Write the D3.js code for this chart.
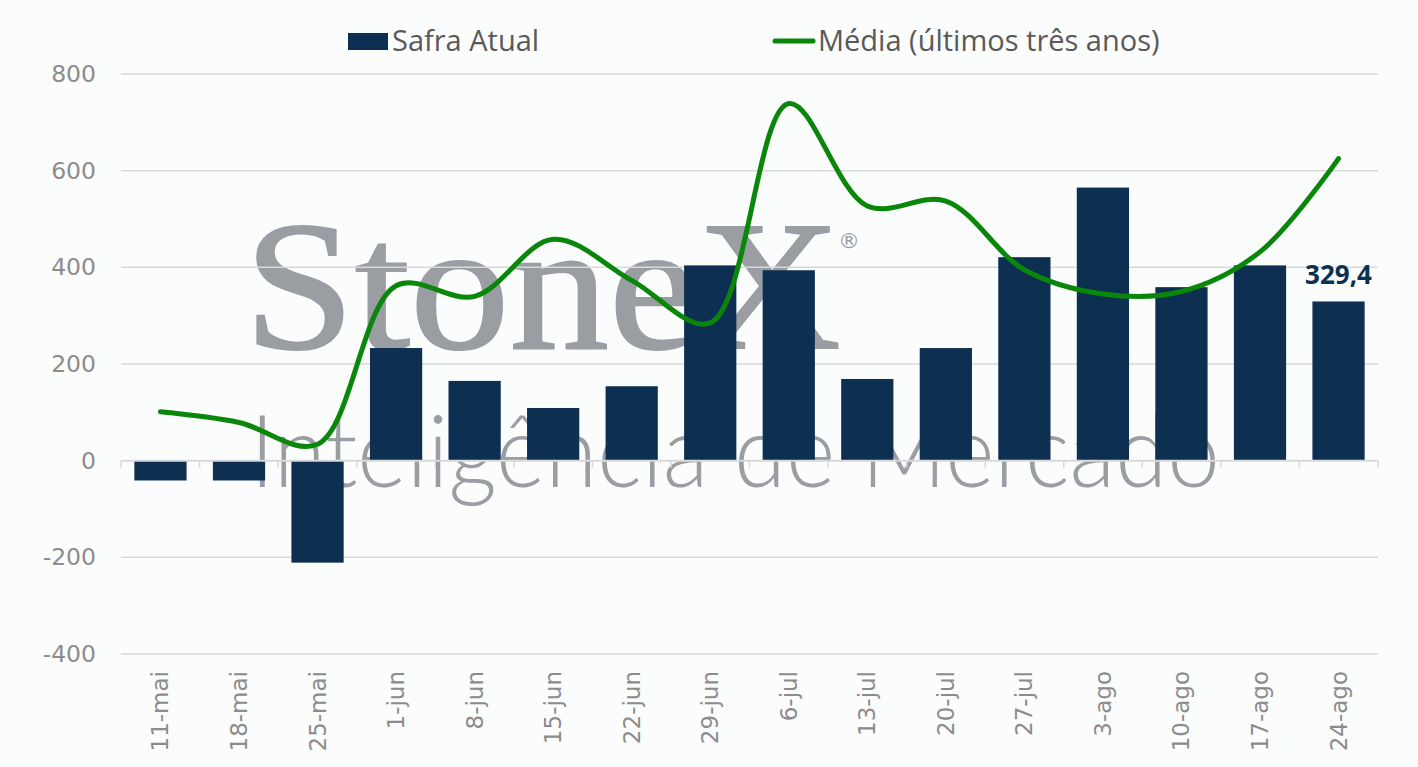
<!DOCTYPE html>
<html>
<head>
<meta charset="utf-8">
<script src="https://cdn.jsdelivr.net/npm/d3@7"></script>
<style>
  body { margin: 0; background: #fbfcfc; }
  svg { display: block; }
</style>
</head>
<body>
<div id="chart"></div>
<script>
const width = 1418;
const height = 767;

const weeks = ["11-mai", "18-mai", "25-mai", "1-jun", "8-jun", "15-jun", "22-jun", "29-jun",
  "6-jul", "13-jul", "20-jul", "27-jul", "3-ago", "10-ago", "17-ago", "24-ago"];
const safraAtual = [-41, -41, -211, 233, 165, 109, 154, 404, 394, 169, 233, 421, 565, 359, 404, 329.4];
const mediaTresAnos = [101, 79, 34, 362, 340, 458, 373, 285, 739, 527, 537, 395, 345, 350, 432, 625];
const yTicks = [-400, -200, 0, 200, 400, 600, 800];

const margin = { top: 74, right: 40, bottom: 113, left: 121 };

const x = d3.scaleBand()
  .domain(weeks)
  .range([margin.left, width - margin.right])
  .paddingInner(0.335)
  .paddingOuter(0.17);

const y = d3.scaleLinear()
  .domain([-400, 800])
  .range([height - margin.bottom, margin.top]);

const svg = d3.select("#chart").append("svg")
  .attr("width", width)
  .attr("height", height)
  .style("background", "#fbfcfc");

// marca d'água
const wm = svg.append("g").attr("fill", "#9a9ea3");
wm.append("text")
  .attr("x", 244)
  .attr("y", 348)
  .attr("font-family", "Liberation Serif, Times New Roman, serif")
  .attr("font-size", 184)
  .attr("stroke", "#9a9ea3")
  .attr("stroke-width", 2)
  .attr("textLength", 597)
  .attr("lengthAdjust", "spacingAndGlyphs")
  .text("StoneX");
wm.append("text")
  .attr("x", 838)
  .attr("y", 248)
  .attr("font-family", "DejaVu Sans, sans-serif")
  .attr("font-size", 22)
  .text("®");
wm.append("text")
  .attr("x", 250)
  .attr("y", 487)
  .attr("font-family", "Lato, 'Open Sans', sans-serif")
  .attr("font-weight", 300)
  .attr("font-size", 100)
  .attr("textLength", 970)
  .attr("lengthAdjust", "spacingAndGlyphs")
  .text("Inteligência de Mercado");

// grade
svg.append("g")
  .selectAll("line")
  .data(yTicks.filter(d => d !== 0))
  .join("line")
  .attr("x1", margin.left)
  .attr("x2", width - margin.right)
  .attr("y1", d => y(d))
  .attr("y2", d => y(d))
  .attr("stroke", "#d9d9d9")
  .attr("stroke-width", 1.5);

// eixo y
svg.append("g")
  .attr("transform", `translate(${margin.left},0)`)
  .call(d3.axisLeft(y).tickValues(yTicks).tickSize(0).tickPadding(25).tickFormat(d => String(d)))
  .call(g => g.select(".domain").remove())
  .call(g => g.selectAll("text")
    .attr("fill", "#8c8c8c")
    .attr("font-family", "'DejaVu Sans', sans-serif")
    .attr("font-size", 23.5));

// barras
svg.append("g")
  .attr("fill", "#0c2f52")
  .selectAll("rect")
  .data(weeks)
  .join("rect")
  .attr("x", d => x(d))
  .attr("width", x.bandwidth())
  .attr("y", (d, i) => y(Math.max(0, safraAtual[i])))
  .attr("height", (d, i) => Math.abs(y(safraAtual[i]) - y(0)));

// eixo x
const xAxis = svg.append("g")
  .attr("transform", `translate(0,${y(0)})`)
  .call(d3.axisBottom(x).tickSize(0).tickPadding(0).tickFormat(""))
  .call(g => g.select(".domain").attr("stroke", "#d9d9d9").attr("stroke-width", 2)
    .attr("d", `M${margin.left},0H${width - margin.right}`));
xAxis.append("g")
  .selectAll("line")
  .data(d3.range(weeks.length + 1))
  .join("line")
  .attr("x1", i => margin.left + i * (width - margin.right - margin.left) / weeks.length)
  .attr("x2", i => margin.left + i * (width - margin.right - margin.left) / weeks.length)
  .attr("y1", 0)
  .attr("y2", 7)
  .attr("stroke", "#d9d9d9")
  .attr("stroke-width", 1.5);

svg.append("g")
  .selectAll("text")
  .data(weeks)
  .join("text")
  .attr("transform", d => `translate(${x(d) + x.bandwidth() / 2 + 8},${y(-400) + 17}) rotate(-90)`)
  .attr("text-anchor", "end")
  .attr("fill", "#8c8c8c")
  .attr("font-family", "'DejaVu Sans', sans-serif")
  .attr("font-size", 23)
  .text(d => d);

// linha média
const line = d3.line()
  .x((d, i) => x(weeks[i]) + x.bandwidth() / 2)
  .y(d => y(d))
  .curve(d3.curveCatmullRom.alpha(0.5));

svg.append("path")
  .datum(mediaTresAnos)
  .attr("fill", "none")
  .attr("stroke", "#0a870a")
  .attr("stroke-width", 5)
  .attr("stroke-linecap", "round")
  .attr("d", line);

// rótulo último valor
const last = weeks.length - 1;
svg.append("text")
  .attr("x", x(weeks[last]) + x.bandwidth() / 2)
  .attr("y", y(safraAtual[last]) - 17)
  .attr("text-anchor", "middle")
  .attr("fill", "#0c2f52")
  .attr("font-family", "'Open Sans', sans-serif")
  .attr("font-weight", 700)
  .attr("font-size", 26)
  .text(d3.format(",.1f")(safraAtual[last]).replace(".", ","));

// legenda
const legend = svg.append("g")
  .attr("font-family", "'Open Sans', sans-serif")
  .attr("font-size", 29)
  .attr("fill", "#595959");
legend.append("rect")
  .attr("x", 348).attr("y", 33).attr("width", 40).attr("height", 17)
  .attr("fill", "#0c2f52");
legend.append("text")
  .attr("x", 392).attr("y", 51)
  .text("Safra Atual");
legend.append("line")
  .attr("x1", 775).attr("x2", 813).attr("y1", 41).attr("y2", 41)
  .attr("stroke", "#0a870a").attr("stroke-width", 5).attr("stroke-linecap", "round");
legend.append("text")
  .attr("x", 818).attr("y", 51)
  .text("Média (últimos três anos)");
</script>
</body>
</html>
